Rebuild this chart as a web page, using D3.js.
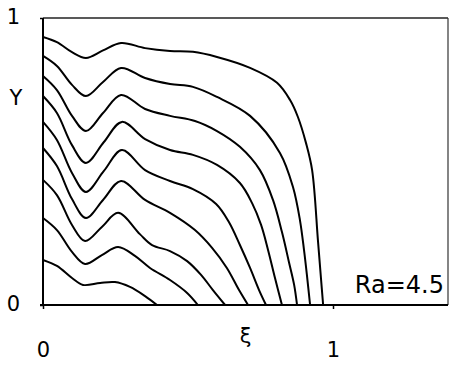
<!DOCTYPE html>
<html>
<head>
<meta charset="utf-8">
<script src="https://cdn.jsdelivr.net/npm/d3@7"></script>
<style>
  html, body { margin: 0; padding: 0; background: #fff; }
  svg { display: block; }
  text { font-family: "DejaVu Sans", sans-serif; fill: #000; }
</style>
</head>
<body>
<svg id="chart" width="450" height="366"></svg>
<script>
// Contour levels, each as [xi, Y] samples running from the left wall down to the floor
const curve1 = [[0,0.934],[0.048,0.916],[0.100,0.881],[0.148,0.861],[0.207,0.887],[0.269,0.913],[0.352,0.895],[0.438,0.885],[0.517,0.882],[0.600,0.864],[0.714,0.826],[0.807,0.774],[0.852,0.714],[0.879,0.655],[0.907,0.564],[0.928,0.470],[0.948,0.226],[0.959,0.087],[0.966,0]];
const curve2 = [[0,0.868],[0.048,0.833],[0.100,0.767],[0.148,0.728],[0.207,0.777],[0.269,0.826],[0.352,0.791],[0.438,0.770],[0.517,0.760],[0.600,0.725],[0.714,0.659],[0.817,0.530],[0.862,0.411],[0.886,0.296],[0.900,0.192],[0.910,0.105],[0.921,0]];
const curve3 = [[0,0.798],[0.048,0.749],[0.100,0.659],[0.148,0.606],[0.207,0.669],[0.269,0.732],[0.352,0.683],[0.438,0.659],[0.524,0.641],[0.600,0.606],[0.679,0.551],[0.748,0.470],[0.793,0.366],[0.824,0.254],[0.848,0.150],[0.866,0.070],[0.876,0]];
const curve4 = [[0,0.728],[0.048,0.669],[0.100,0.557],[0.148,0.495],[0.210,0.568],[0.272,0.638],[0.352,0.578],[0.438,0.540],[0.517,0.523],[0.600,0.488],[0.679,0.425],[0.721,0.355],[0.752,0.279],[0.776,0.192],[0.800,0.094],[0.824,0]];
const curve5 = [[0,0.638],[0.048,0.575],[0.100,0.460],[0.148,0.394],[0.210,0.467],[0.272,0.540],[0.352,0.470],[0.438,0.432],[0.517,0.404],[0.597,0.352],[0.641,0.289],[0.679,0.209],[0.714,0.129],[0.745,0.052],[0.769,0]];
const curve6 = [[0,0.547],[0.048,0.484],[0.100,0.369],[0.148,0.303],[0.207,0.366],[0.269,0.432],[0.352,0.366],[0.438,0.321],[0.524,0.261],[0.583,0.199],[0.634,0.129],[0.676,0.052],[0.707,0]];
const curve7 = [[0,0.436],[0.048,0.383],[0.100,0.279],[0.145,0.223],[0.203,0.272],[0.259,0.321],[0.334,0.247],[0.376,0.209],[0.438,0.188],[0.497,0.153],[0.545,0.105],[0.586,0.052],[0.628,0]];
const curve8 = [[0,0.303],[0.048,0.261],[0.100,0.185],[0.145,0.143],[0.203,0.174],[0.259,0.202],[0.317,0.171],[0.369,0.129],[0.438,0.087],[0.497,0.042],[0.534,0]];
const curve9 = [[0,0.157],[0.048,0.136],[0.100,0.094],[0.138,0.070],[0.197,0.077],[0.248,0.080],[0.300,0.063],[0.352,0.031],[0.393,0]];

const curves = [curve1, curve2, curve3, curve4, curve5, curve6, curve7, curve8, curve9];

const xTicks = [0, 1];
const yTicks = [0, 1];
const xLabel = "ξ";
const yLabel = "Y";
const caseLabel = "Ra=4.5";

const svg = d3.select("#chart");

const x = d3.scaleLinear().domain([0, 1.4]).range([43, 449]);
const y = d3.scaleLinear().domain([0, 1]).range([305, 18]);

// frame: top and right edges are thin, left and bottom heavier
svg.append("line")
  .attr("x1", x(0)).attr("x2", x(1.4) - 1)
  .attr("y1", y(1)).attr("y2", y(1))
  .attr("stroke", "#222").attr("stroke-width", 1.3);
svg.append("line")
  .attr("x1", x(1.4) - 1).attr("x2", x(1.4) - 1)
  .attr("y1", y(1)).attr("y2", y(0))
  .attr("stroke", "#333").attr("stroke-width", 1.2);
svg.append("line")
  .attr("x1", x(0)).attr("x2", x(0))
  .attr("y1", y(1)).attr("y2", y(0))
  .attr("stroke", "#000").attr("stroke-width", 2);
svg.append("line")
  .attr("x1", x(0) - 3).attr("x2", x(1.4) - 1)
  .attr("y1", y(0)).attr("y2", y(0))
  .attr("stroke", "#000").attr("stroke-width", 2);

// axes: labels only, tiny ticks
const xAxis = d3.axisBottom(x).tickValues(xTicks).tickFormat(d3.format("d"))
  .tickSizeInner(4).tickSizeOuter(0).tickPadding(33);
const gx = svg.append("g").attr("transform", `translate(0,${y(0)})`).call(xAxis);
gx.select(".domain").remove();
gx.selectAll(".tick line").attr("stroke", "#000").attr("stroke-width", 1.5);
gx.selectAll(".tick text").attr("font-size", 21).attr("font-family", "DejaVu Sans");

const yAxis = d3.axisLeft(y).tickValues(yTicks).tickFormat(d3.format("d"))
  .tickSizeInner(3).tickSizeOuter(0).tickPadding(20);
const gy = svg.append("g").attr("transform", `translate(${x(0)},0)`).call(yAxis);
gy.select(".domain").remove();
gy.selectAll(".tick line").attr("stroke", "#000").attr("stroke-width", 1.5);
gy.selectAll(".tick text").attr("font-size", 21).attr("font-family", "DejaVu Sans")
  .attr("dy", "0.28em");

svg.append("text")
  .attr("x", 16).attr("y", y(0.72))
  .attr("text-anchor", "middle").attr("dominant-baseline", "central")
  .attr("font-size", 21).text(yLabel);

svg.append("text")
  .attr("x", x(0.699)).attr("y", 336)
  .attr("text-anchor", "middle").attr("dominant-baseline", "central")
  .attr("font-size", 21).text(xLabel);

svg.append("text")
  .attr("x", 444).attr("y", 293)
  .attr("text-anchor", "end")
  .attr("font-size", 24).text(caseLabel);

// contour lines
const line = d3.line()
  .x(d => x(d[0]))
  .y(d => y(d[1]))
  .curve(d3.curveCatmullRom.alpha(0.5));

svg.append("g")
  .selectAll("path")
  .data(curves)
  .join("path")
  .attr("d", line)
  .attr("fill", "none")
  .attr("stroke", "#000")
  .attr("stroke-width", 2)
  .attr("stroke-linejoin", "round")
  .attr("stroke-linecap", "round");
</script>
</body>
</html>
